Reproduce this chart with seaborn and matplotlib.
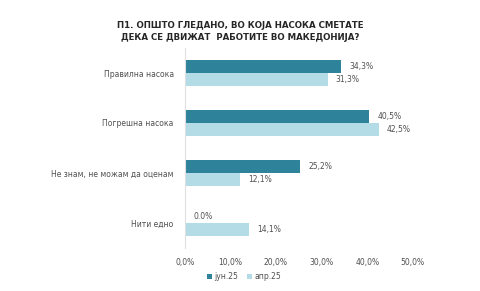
import matplotlib
matplotlib.use("Agg")
import matplotlib.pyplot as plt
import seaborn as sns
import pandas as pd

categories = ["Правилна насока", "Погрешна насока", "Не знам, не можам да оценам", "Нити едно"]
series_names = ["јун.25", "апр.25"]
jun25 = [34.3, 40.5, 25.2, 0.0]
apr25 = [31.3, 42.5, 12.1, 14.1]
xticks = [0, 10, 20, 30, 40, 50]
title = "П1. ОПШТО ГЛЕДАНО, ВО КОЈА НАСОКА СМЕТАТЕ\nДЕКА СЕ ДВИЖАТ  РАБОТИТЕ ВО МАКЕДОНИЈА?"

sns.set_theme(style="white")
plt.rcParams['font.family'] = ['DejaVu Sans']

df = pd.DataFrame({
    "cat": categories * 2,
    "series": [series_names[0]] * 4 + [series_names[1]] * 4,
    "val": jun25 + apr25,
})

colors = ["#2E8299", "#B3DCE7"]
fig = plt.figure(figsize=(4.8, 2.91), dpi=100)
ax = fig.add_axes([0.385, 0.148, 0.475, 0.687])
sns.barplot(data=df, y="cat", x="val", hue="series", orient="h",
            palette=colors, width=0.52, ax=ax, saturation=1, legend=True,
            linewidth=0, edgecolor="none")

for i, cont in enumerate(ax.containers):
    labels = []
    for v in cont.datavalues:
        if v == 0:
            labels.append("0.0%")
        else:
            labels.append(f"{v:.1f}%".replace(".", ","))
    ax.bar_label(cont, labels=labels, padding=6, fontsize=5.5, color="#505050")

ax.set_xlim(0, 50)
ax.set_xticks(xticks)
ax.set_xticklabels([f"{t:.1f}%".replace(".", ",") for t in xticks], fontsize=5.5, color="#505050")
ax.tick_params(axis="y", labelsize=5.5, labelcolor="#505050", length=0, pad=8)
ax.tick_params(axis="x", length=0, pad=7)
ax.set_xlabel("")
ax.set_ylabel("")
for s in ["top", "right", "bottom"]:
    ax.spines[s].set_visible(False)
ax.spines["left"].set_color("#E0E0E0")
ax.spines["left"].set_linewidth(0.8)

h, l = ax.get_legend_handles_labels()
ax.legend(h, l, loc="upper center", bbox_to_anchor=(0.26, -0.085), ncol=2, frameon=False,
          fontsize=5.5, handlelength=0.6, handleheight=0.6, handletextpad=0.3, columnspacing=1.2,
          labelcolor="#505050")

fig.text(0.5, 0.855, title, ha="center", va="bottom", fontsize=6.2, fontweight="bold",
         color="#262626", linespacing=1.4)

fig.savefig("out.png", dpi=100)
